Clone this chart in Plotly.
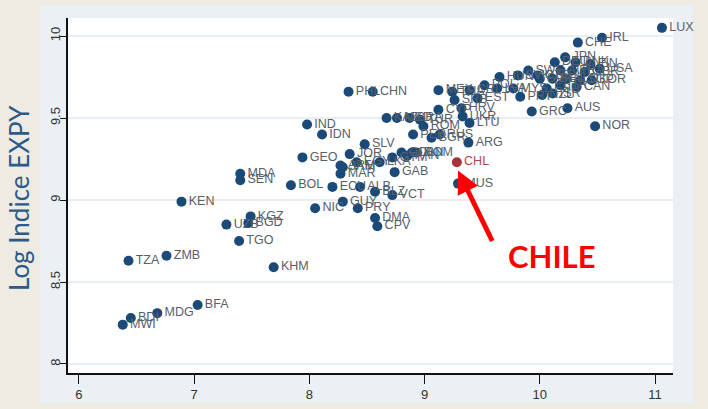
import plotly.graph_objects as go

# Country codes and their (log GDP per capita, log EXPY) coordinates
countries = [
    "LUX", "IRL", "CHE", "JPN", "DEU", "DNK", "FIN", "AUT", "FRA", "GBR",
    "USA", "BEL", "NLD", "SGP", "KOR", "ITA", "CAN", "ESP", "SVN", "SWE",
    "CZE", "SVK", "NZL", "ISR", "HUN", "POL", "MYS", "LVA", "PRT", "EST",
    "GRC", "AUS", "NOR", "MEX", "THA", "CRI", "SRB", "CYP", "HRV", "UKR",
    "LTU", "KAZ", "MKD", "BRA", "TUR", "ROM", "PER", "BGR", "RUS", "ARG",
    "MUS", "PHL", "CHN", "IND", "IDN", "SLV", "JOR", "GEO", "ARM", "JAM",
    "MAR", "EGY", "LKA", "GTM", "COL", "PAN", "LBN", "DOM", "GAB", "BOL",
    "ECU", "ALB", "BLZ", "VCT", "GUY", "NIC", "PRY", "DMA", "CPV", "MDA",
    "SEN", "KEN", "UZB", "KGZ", "BGD", "TGO", "ZMB", "TZA", "KHM", "BFA",
    "MDG", "BDI", "MWI",
]
log_gdp = [
    11.06, 10.54, 10.33, 10.22, 10.13, 10.31, 10.44, 10.18, 10.28, 10.39,
    10.52, 10.11, 10.23, 10.35, 10.45, 10.18, 10.32, 10.06, 10.00, 9.90,
    9.98, 9.81, 10.02, 10.11, 9.65, 9.52, 9.77, 9.63, 9.83, 9.46,
    9.93, 10.24, 10.48, 9.12, 9.24, 9.39, 9.26, 9.12, 9.32, 9.33,
    9.39, 8.67, 8.76, 8.87, 8.96, 8.99, 8.90, 9.06, 9.13, 9.38,
    9.29, 8.34, 8.55, 7.98, 8.11, 8.48, 8.35, 7.94, 8.27, 8.29,
    8.27, 8.41, 8.61, 8.72, 8.80, 8.85, 8.89, 8.93, 8.74, 7.84,
    8.20, 8.44, 8.57, 8.72, 8.29, 8.05, 8.42, 8.57, 8.59, 7.40,
    7.40, 6.89, 7.28, 7.49, 7.47, 7.39, 6.76, 6.43, 7.69, 7.03,
    6.68, 6.45, 6.38,
]
log_expy = [
    10.05, 9.99, 9.96, 9.87, 9.84, 9.84, 9.83, 9.79, 9.79, 9.78,
    9.80, 9.74, 9.74, 9.73, 9.73, 9.70, 9.69, 9.68, 9.74, 9.79,
    9.76, 9.76, 9.64, 9.65, 9.75, 9.70, 9.68, 9.68, 9.63, 9.62,
    9.54, 9.56, 9.45, 9.67, 9.66, 9.67, 9.61, 9.55, 9.56, 9.51,
    9.47, 9.50, 9.50, 9.50, 9.49, 9.45, 9.40, 9.38, 9.40, 9.35,
    9.10, 9.66, 9.66, 9.46, 9.40, 9.34, 9.28, 9.26, 9.21, 9.20,
    9.16, 9.23, 9.23, 9.26, 9.29, 9.27, 9.29, 9.29, 9.17, 9.09,
    9.08, 9.08, 9.05, 9.03, 8.99, 8.95, 8.95, 8.89, 8.84, 9.16,
    9.12, 8.99, 8.85, 8.90, 8.86, 8.75, 8.66, 8.63, 8.59, 8.36,
    8.31, 8.28, 8.24,
]

# Highlighted country
hl_code = "CHL"
hl_gdp = 9.28
hl_expy = 9.23

x_ticks = [6, 7, 8, 9, 10, 11]
y_ticks = [8, 8.5, 9, 9.5, 10]
y_tick_text = ["8", "8.5", "9", "9.5", "10"]

navy = "#1b4a78"
label_grey = "#56606a"
red = "#ff0000"

fig = go.Figure()

fig.add_trace(go.Scatter(
    x=log_gdp, y=log_expy, text=countries,
    mode="markers+text", textposition="middle right",
    marker=dict(color=navy, size=10, line=dict(width=0)),
    textfont=dict(family="Liberation Sans", size=12.5, color=label_grey),
    hoverinfo="text", showlegend=False, cliponaxis=False,
))

fig.add_trace(go.Scatter(
    x=[hl_gdp], y=[hl_expy], text=[hl_code],
    mode="markers+text", textposition="middle right",
    marker=dict(color="#a8323c", size=10, line=dict(width=0)),
    textfont=dict(family="Liberation Sans", size=12.5, color="#b0464c"),
    hoverinfo="text", showlegend=False,
))

# Plot-area geometry in pixels
W, H = 708, 409
ml, mr, mt, mb = 68, 35, 18, 36
pw, ph = W - ml - mr, H - mt - mb


def px_x(p):
    return (p - ml) / pw


def px_y(p):
    return (H - mb - p) / ph


shapes = [
    # light graph region behind the plot
    dict(type="rect", xref="paper", yref="paper",
         x0=px_x(40), x1=px_x(693), y0=px_y(403), y1=px_y(5),
         fillcolor="#eaf0f3", line=dict(width=0), layer="below"),
    # white plot region
    dict(type="rect", xref="paper", yref="paper",
         x0=0, x1=1, y0=0, y1=1,
         fillcolor="#ffffff", line=dict(width=0), layer="below"),
]

annotations = [
    dict(text="Log Indice EXPY", xref="paper", yref="paper",
         x=px_x(19), y=px_y(198), textangle=-90, showarrow=False,
         xanchor="center", yanchor="middle",
         font=dict(family="Lato", size=26, color="#2d5a8a")),
    dict(x=hl_gdp + 0.01, y=hl_expy - 0.05, xref="x", yref="y",
         ax=35, ay=72, axref="pixel", ayref="pixel",
         showarrow=True, arrowhead=2, arrowsize=0.9, arrowwidth=5,
         arrowcolor=red, text=""),
    dict(text="<b>CHILE</b>", x=10.11, y=8.66, xref="x", yref="y",
         showarrow=False, xanchor="center", yanchor="middle",
         font=dict(family="Lato", size=31, color=red)),
]

fig.update_layout(
    width=W, height=H,
    margin=dict(l=ml, r=mr, t=mt, b=mb, pad=0),
    paper_bgcolor="#eeece2",
    plot_bgcolor="rgba(0,0,0,0)",
    shapes=shapes,
    annotations=annotations,
    xaxis=dict(
        range=[5.905, 11.156], tickvals=x_ticks, showgrid=False,
        zeroline=False, showline=True, linecolor="#111111", linewidth=1.5,
        ticks="outside", ticklen=9, tickwidth=1.3, tickcolor="#111111",
        automargin=False,
        tickfont=dict(family="Liberation Sans", size=13, color="#333333"),
    ),
    yaxis=dict(
        range=[7.945, 10.11], tickvals=y_ticks, ticktext=y_tick_text,
        tickangle=-90, showgrid=True, gridcolor="#e8eef2", gridwidth=1.5,
        zeroline=False, showline=True, linecolor="#111111", linewidth=1.5,
        ticks="outside", ticklen=6, tickwidth=1.3, tickcolor="#111111",
        ticklabelstandoff=-5, automargin=False,
        tickfont=dict(family="Liberation Sans", size=13, color="#333333"),
    ),
)

fig.write_html("out.html")
